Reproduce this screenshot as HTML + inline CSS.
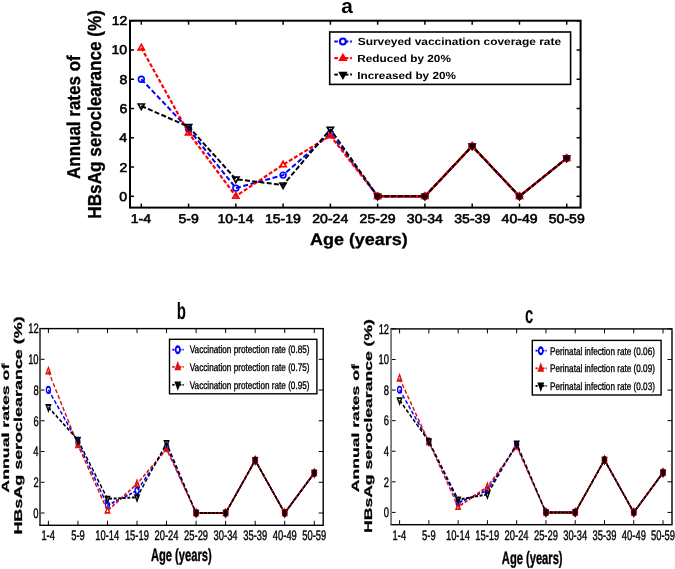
<!DOCTYPE html>
<html><head><meta charset="utf-8"><style>
html,body{margin:0;padding:0;background:#fff;}
body{width:675px;height:569px;overflow:hidden;}
svg{display:block;will-change:transform;font-family:"Liberation Sans",sans-serif;text-rendering:geometricPrecision;}
</style></head><body>
<svg width="675" height="569" viewBox="0 0 675 569">
<rect width="675" height="569" fill="#fff"/>
<polyline points="141.30,79.26 188.57,129.00 235.84,188.11 283.11,175.09 330.38,133.39 377.65,196.30 424.92,196.30 472.19,146.12 519.46,196.30 566.73,158.26" fill="none" stroke="#0000ff" stroke-width="2.0" stroke-dasharray="5,2.6" stroke-linejoin="round"/>
<g transform="translate(141.30,79.26) scale(1.0,1)"><ellipse cx="0" cy="0" rx="2.90" ry="2.90" fill="none" stroke="#0000ff" stroke-width="1.6" /></g>
<g transform="translate(188.57,129.00) scale(1.0,1)"><ellipse cx="0" cy="0" rx="2.90" ry="2.90" fill="none" stroke="#0000ff" stroke-width="1.6" /></g>
<g transform="translate(235.84,188.11) scale(1.0,1)"><ellipse cx="0" cy="0" rx="2.90" ry="2.90" fill="none" stroke="#0000ff" stroke-width="1.6" /></g>
<g transform="translate(283.11,175.09) scale(1.0,1)"><ellipse cx="0" cy="0" rx="2.90" ry="2.90" fill="none" stroke="#0000ff" stroke-width="1.6" /></g>
<g transform="translate(330.38,133.39) scale(1.0,1)"><ellipse cx="0" cy="0" rx="2.90" ry="2.90" fill="none" stroke="#0000ff" stroke-width="1.6" /></g>
<g transform="translate(377.65,196.30) scale(1.0,1)"><ellipse cx="0" cy="0" rx="2.90" ry="2.90" fill="none" stroke="#0000ff" stroke-width="1.6" /></g>
<g transform="translate(424.92,196.30) scale(1.0,1)"><ellipse cx="0" cy="0" rx="2.90" ry="2.90" fill="none" stroke="#0000ff" stroke-width="1.6" /></g>
<g transform="translate(472.19,146.12) scale(1.0,1)"><ellipse cx="0" cy="0" rx="2.90" ry="2.90" fill="none" stroke="#0000ff" stroke-width="1.6" /></g>
<g transform="translate(519.46,196.30) scale(1.0,1)"><ellipse cx="0" cy="0" rx="2.90" ry="2.90" fill="none" stroke="#0000ff" stroke-width="1.6" /></g>
<g transform="translate(566.73,158.26) scale(1.0,1)"><ellipse cx="0" cy="0" rx="2.90" ry="2.90" fill="none" stroke="#0000ff" stroke-width="1.6" /></g>
<polyline points="141.30,47.81 188.57,132.81 235.84,196.15 283.11,164.70 330.38,135.73 377.65,196.30 424.92,196.30 472.19,146.12 519.46,196.30 566.73,158.26" fill="none" stroke="#ff0000" stroke-width="2.2" stroke-dasharray="4,2" stroke-linejoin="round"/>
<g transform="translate(141.30,47.81) scale(1.0,1)"><polygon points="0,-3.40 3.06,2.04 -3.06,2.04" fill="none" stroke="#ff0000" stroke-width="1.7" stroke-linejoin="miter" /></g>
<g transform="translate(188.57,132.81) scale(1.0,1)"><polygon points="0,-3.40 3.06,2.04 -3.06,2.04" fill="none" stroke="#ff0000" stroke-width="1.7" stroke-linejoin="miter" /></g>
<g transform="translate(235.84,196.15) scale(1.0,1)"><polygon points="0,-3.40 3.06,2.04 -3.06,2.04" fill="none" stroke="#ff0000" stroke-width="1.7" stroke-linejoin="miter" /></g>
<g transform="translate(283.11,164.70) scale(1.0,1)"><polygon points="0,-3.40 3.06,2.04 -3.06,2.04" fill="none" stroke="#ff0000" stroke-width="1.7" stroke-linejoin="miter" /></g>
<g transform="translate(330.38,135.73) scale(1.0,1)"><polygon points="0,-3.40 3.06,2.04 -3.06,2.04" fill="none" stroke="#ff0000" stroke-width="1.7" stroke-linejoin="miter" /></g>
<g transform="translate(377.65,196.30) scale(1.0,1)"><polygon points="0,-3.40 3.06,2.04 -3.06,2.04" fill="none" stroke="#ff0000" stroke-width="1.7" stroke-linejoin="miter" /></g>
<g transform="translate(424.92,196.30) scale(1.0,1)"><polygon points="0,-3.40 3.06,2.04 -3.06,2.04" fill="none" stroke="#ff0000" stroke-width="1.7" stroke-linejoin="miter" /></g>
<g transform="translate(472.19,146.12) scale(1.0,1)"><polygon points="0,-3.40 3.06,2.04 -3.06,2.04" fill="none" stroke="#ff0000" stroke-width="1.7" stroke-linejoin="miter" /></g>
<g transform="translate(519.46,196.30) scale(1.0,1)"><polygon points="0,-3.40 3.06,2.04 -3.06,2.04" fill="none" stroke="#ff0000" stroke-width="1.7" stroke-linejoin="miter" /></g>
<g transform="translate(566.73,158.26) scale(1.0,1)"><polygon points="0,-3.40 3.06,2.04 -3.06,2.04" fill="none" stroke="#ff0000" stroke-width="1.7" stroke-linejoin="miter" /></g>
<polyline points="141.30,106.03 188.57,126.66 235.84,179.18 283.11,185.03 330.38,129.29 377.65,196.30 424.92,196.30 472.19,146.12 519.46,196.30 566.73,158.26" fill="none" stroke="#000" stroke-width="2.0" stroke-dasharray="5,2.3" stroke-linejoin="round"/>
<g transform="translate(141.30,106.03) scale(1.0,1)"><polygon points="0,3.40 3.06,-2.04 -3.06,-2.04" fill="none" stroke="#000" stroke-width="1.7" stroke-linejoin="miter" /></g>
<g transform="translate(188.57,126.66) scale(1.0,1)"><polygon points="0,3.40 3.06,-2.04 -3.06,-2.04" fill="none" stroke="#000" stroke-width="1.7" stroke-linejoin="miter" /></g>
<g transform="translate(235.84,179.18) scale(1.0,1)"><polygon points="0,3.40 3.06,-2.04 -3.06,-2.04" fill="none" stroke="#000" stroke-width="1.7" stroke-linejoin="miter" /></g>
<g transform="translate(283.11,185.03) scale(1.0,1)"><polygon points="0,3.40 3.06,-2.04 -3.06,-2.04" fill="none" stroke="#000" stroke-width="1.7" stroke-linejoin="miter" /></g>
<g transform="translate(330.38,129.29) scale(1.0,1)"><polygon points="0,3.40 3.06,-2.04 -3.06,-2.04" fill="none" stroke="#000" stroke-width="1.7" stroke-linejoin="miter" /></g>
<g transform="translate(377.65,196.30) scale(1.0,1)"><polygon points="0,3.40 3.06,-2.04 -3.06,-2.04" fill="none" stroke="#000" stroke-width="1.7" stroke-linejoin="miter" /></g>
<g transform="translate(424.92,196.30) scale(1.0,1)"><polygon points="0,3.40 3.06,-2.04 -3.06,-2.04" fill="none" stroke="#000" stroke-width="1.7" stroke-linejoin="miter" /></g>
<g transform="translate(472.19,146.12) scale(1.0,1)"><polygon points="0,3.40 3.06,-2.04 -3.06,-2.04" fill="none" stroke="#000" stroke-width="1.7" stroke-linejoin="miter" /></g>
<g transform="translate(519.46,196.30) scale(1.0,1)"><polygon points="0,3.40 3.06,-2.04 -3.06,-2.04" fill="none" stroke="#000" stroke-width="1.7" stroke-linejoin="miter" /></g>
<g transform="translate(566.73,158.26) scale(1.0,1)"><polygon points="0,3.40 3.06,-2.04 -3.06,-2.04" fill="none" stroke="#000" stroke-width="1.7" stroke-linejoin="miter" /></g>
<polyline points="377.65,196.30 424.92,196.30 472.19,146.12 519.46,196.30 566.73,158.26" fill="none" stroke="#ff0000" stroke-width="2.2" stroke-linejoin="round"/>
<polyline points="377.65,196.30 424.92,196.30 472.19,146.12 519.46,196.30 566.73,158.26" fill="none" stroke="#000" stroke-width="2.0" stroke-dasharray="5,1.7" stroke-linejoin="round"/>
<ellipse cx="377.65" cy="196.30" rx="3.40" ry="3.00" fill="#100" stroke="#c00" stroke-width="0.7"/>
<ellipse cx="424.92" cy="196.30" rx="3.40" ry="3.00" fill="#100" stroke="#c00" stroke-width="0.7"/>
<ellipse cx="472.19" cy="146.12" rx="3.40" ry="3.00" fill="#100" stroke="#c00" stroke-width="0.7"/>
<ellipse cx="519.46" cy="196.30" rx="3.40" ry="3.00" fill="#100" stroke="#c00" stroke-width="0.7"/>
<ellipse cx="566.73" cy="158.26" rx="3.40" ry="3.00" fill="#100" stroke="#c00" stroke-width="0.7"/>
<line x1="141.30" y1="20.70" x2="141.30" y2="24.70" stroke="#000" stroke-width="1.5" />
<line x1="141.30" y1="207.60" x2="141.30" y2="203.60" stroke="#000" stroke-width="1.5" />
<line x1="188.57" y1="20.70" x2="188.57" y2="24.70" stroke="#000" stroke-width="1.5" />
<line x1="188.57" y1="207.60" x2="188.57" y2="203.60" stroke="#000" stroke-width="1.5" />
<line x1="235.84" y1="20.70" x2="235.84" y2="24.70" stroke="#000" stroke-width="1.5" />
<line x1="235.84" y1="207.60" x2="235.84" y2="203.60" stroke="#000" stroke-width="1.5" />
<line x1="283.11" y1="20.70" x2="283.11" y2="24.70" stroke="#000" stroke-width="1.5" />
<line x1="283.11" y1="207.60" x2="283.11" y2="203.60" stroke="#000" stroke-width="1.5" />
<line x1="330.38" y1="20.70" x2="330.38" y2="24.70" stroke="#000" stroke-width="1.5" />
<line x1="330.38" y1="207.60" x2="330.38" y2="203.60" stroke="#000" stroke-width="1.5" />
<line x1="377.65" y1="20.70" x2="377.65" y2="24.70" stroke="#000" stroke-width="1.5" />
<line x1="377.65" y1="207.60" x2="377.65" y2="203.60" stroke="#000" stroke-width="1.5" />
<line x1="424.92" y1="20.70" x2="424.92" y2="24.70" stroke="#000" stroke-width="1.5" />
<line x1="424.92" y1="207.60" x2="424.92" y2="203.60" stroke="#000" stroke-width="1.5" />
<line x1="472.19" y1="20.70" x2="472.19" y2="24.70" stroke="#000" stroke-width="1.5" />
<line x1="472.19" y1="207.60" x2="472.19" y2="203.60" stroke="#000" stroke-width="1.5" />
<line x1="519.46" y1="20.70" x2="519.46" y2="24.70" stroke="#000" stroke-width="1.5" />
<line x1="519.46" y1="207.60" x2="519.46" y2="203.60" stroke="#000" stroke-width="1.5" />
<line x1="566.73" y1="20.70" x2="566.73" y2="24.70" stroke="#000" stroke-width="1.5" />
<line x1="566.73" y1="207.60" x2="566.73" y2="203.60" stroke="#000" stroke-width="1.5" />
<line x1="130.00" y1="196.30" x2="134.00" y2="196.30" stroke="#000" stroke-width="1.5" />
<line x1="580.60" y1="196.30" x2="576.60" y2="196.30" stroke="#000" stroke-width="1.5" />
<line x1="130.00" y1="167.04" x2="134.00" y2="167.04" stroke="#000" stroke-width="1.5" />
<line x1="580.60" y1="167.04" x2="576.60" y2="167.04" stroke="#000" stroke-width="1.5" />
<line x1="130.00" y1="137.78" x2="134.00" y2="137.78" stroke="#000" stroke-width="1.5" />
<line x1="580.60" y1="137.78" x2="576.60" y2="137.78" stroke="#000" stroke-width="1.5" />
<line x1="130.00" y1="108.52" x2="134.00" y2="108.52" stroke="#000" stroke-width="1.5" />
<line x1="580.60" y1="108.52" x2="576.60" y2="108.52" stroke="#000" stroke-width="1.5" />
<line x1="130.00" y1="79.26" x2="134.00" y2="79.26" stroke="#000" stroke-width="1.5" />
<line x1="580.60" y1="79.26" x2="576.60" y2="79.26" stroke="#000" stroke-width="1.5" />
<line x1="130.00" y1="50.00" x2="134.00" y2="50.00" stroke="#000" stroke-width="1.5" />
<line x1="580.60" y1="50.00" x2="576.60" y2="50.00" stroke="#000" stroke-width="1.5" />
<line x1="130.00" y1="20.74" x2="134.00" y2="20.74" stroke="#000" stroke-width="1.5" />
<line x1="580.60" y1="20.74" x2="576.60" y2="20.74" stroke="#000" stroke-width="1.5" />
<rect x="130.00" y="20.70" width="450.60" height="186.90" fill="none" stroke="#000" stroke-width="2"/>
<text transform="translate(130.79,222.60) scale(1.1000,1)" font-size="12.80" font-weight="normal" stroke="#000" stroke-width="0.6" stroke-linejoin="round">1-4</text>
<text transform="translate(178.43,222.60) scale(1.1000,1)" font-size="12.80" font-weight="normal" stroke="#000" stroke-width="0.6" stroke-linejoin="round">5-9</text>
<text transform="translate(217.50,222.60) scale(1.1000,1)" font-size="12.80" font-weight="normal" stroke="#000" stroke-width="0.6" stroke-linejoin="round">10-14</text>
<text transform="translate(264.89,222.60) scale(1.1000,1)" font-size="12.80" font-weight="normal" stroke="#000" stroke-width="0.6" stroke-linejoin="round">15-19</text>
<text transform="translate(312.22,222.60) scale(1.1000,1)" font-size="12.80" font-weight="normal" stroke="#000" stroke-width="0.6" stroke-linejoin="round">20-24</text>
<text transform="translate(359.61,222.60) scale(1.1000,1)" font-size="12.80" font-weight="normal" stroke="#000" stroke-width="0.6" stroke-linejoin="round">25-29</text>
<text transform="translate(406.84,222.60) scale(1.1000,1)" font-size="12.80" font-weight="normal" stroke="#000" stroke-width="0.6" stroke-linejoin="round">30-34</text>
<text transform="translate(454.24,222.60) scale(1.1000,1)" font-size="12.80" font-weight="normal" stroke="#000" stroke-width="0.6" stroke-linejoin="round">35-39</text>
<text transform="translate(501.61,222.60) scale(1.1000,1)" font-size="12.80" font-weight="normal" stroke="#000" stroke-width="0.6" stroke-linejoin="round">40-49</text>
<text transform="translate(548.76,222.60) scale(1.1000,1)" font-size="12.80" font-weight="normal" stroke="#000" stroke-width="0.6" stroke-linejoin="round">50-59</text>
<text transform="translate(119.31,200.76) scale(1.1000,1)" font-size="12.80" font-weight="normal" stroke="#000" stroke-width="0.6" stroke-linejoin="round">0</text>
<text transform="translate(119.49,171.50) scale(1.1000,1)" font-size="12.80" font-weight="normal" stroke="#000" stroke-width="0.6" stroke-linejoin="round">2</text>
<text transform="translate(119.17,142.24) scale(1.1000,1)" font-size="12.80" font-weight="normal" stroke="#000" stroke-width="0.6" stroke-linejoin="round">4</text>
<text transform="translate(119.38,112.98) scale(1.1000,1)" font-size="12.80" font-weight="normal" stroke="#000" stroke-width="0.6" stroke-linejoin="round">6</text>
<text transform="translate(119.38,83.72) scale(1.1000,1)" font-size="12.80" font-weight="normal" stroke="#000" stroke-width="0.6" stroke-linejoin="round">8</text>
<text transform="translate(111.50,54.46) scale(1.1000,1)" font-size="12.80" font-weight="normal" stroke="#000" stroke-width="0.6" stroke-linejoin="round">10</text>
<text transform="translate(111.68,25.20) scale(1.1000,1)" font-size="12.80" font-weight="normal" stroke="#000" stroke-width="0.6" stroke-linejoin="round">12</text>
<g transform="scale(0.65,1)">
<polyline points="74.46,389.89 119.91,442.30 165.35,505.31 210.80,490.71 256.25,446.91 301.69,513.00 347.14,513.00 392.58,460.28 438.03,513.00 483.48,473.04" fill="none" stroke="#0000ff" stroke-width="2.0" stroke-dasharray="4.5,2.5" stroke-linejoin="round"/>
<g transform="translate(74.46,389.89) scale(1.0,1)"><ellipse cx="0" cy="0" rx="3.10" ry="3.10" fill="none" stroke="#0000ff" stroke-width="1.9" /></g>
<g transform="translate(119.91,442.30) scale(1.0,1)"><ellipse cx="0" cy="0" rx="3.10" ry="3.10" fill="none" stroke="#0000ff" stroke-width="1.9" /></g>
<g transform="translate(165.35,505.31) scale(1.0,1)"><ellipse cx="0" cy="0" rx="3.10" ry="3.10" fill="none" stroke="#0000ff" stroke-width="1.9" /></g>
<g transform="translate(210.80,490.71) scale(1.0,1)"><ellipse cx="0" cy="0" rx="3.10" ry="3.10" fill="none" stroke="#0000ff" stroke-width="1.9" /></g>
<g transform="translate(256.25,446.91) scale(1.0,1)"><ellipse cx="0" cy="0" rx="3.10" ry="3.10" fill="none" stroke="#0000ff" stroke-width="1.9" /></g>
<g transform="translate(301.69,513.00) scale(1.0,1)"><ellipse cx="0" cy="0" rx="3.10" ry="3.10" fill="none" stroke="#0000ff" stroke-width="1.9" /></g>
<g transform="translate(347.14,513.00) scale(1.0,1)"><ellipse cx="0" cy="0" rx="3.10" ry="3.10" fill="none" stroke="#0000ff" stroke-width="1.9" /></g>
<g transform="translate(392.58,460.28) scale(1.0,1)"><ellipse cx="0" cy="0" rx="3.10" ry="3.10" fill="none" stroke="#0000ff" stroke-width="1.9" /></g>
<g transform="translate(438.03,513.00) scale(1.0,1)"><ellipse cx="0" cy="0" rx="3.10" ry="3.10" fill="none" stroke="#0000ff" stroke-width="1.9" /></g>
<g transform="translate(483.48,473.04) scale(1.0,1)"><ellipse cx="0" cy="0" rx="3.10" ry="3.10" fill="none" stroke="#0000ff" stroke-width="1.9" /></g>
<polyline points="74.46,371.29 119.91,445.06 165.35,510.69 210.80,483.95 256.25,449.06 301.69,513.00 347.14,513.00 392.58,460.28 438.03,513.00 483.48,473.04" fill="none" stroke="#dd1111" stroke-width="2.0" stroke-dasharray="4.5,2.5" stroke-linejoin="round"/>
<g transform="translate(74.46,371.29) scale(1.0,1)"><polygon points="0,-3.70 3.33,2.22 -3.33,2.22" fill="none" stroke="#dd1111" stroke-width="1.9" stroke-linejoin="miter" /></g>
<g transform="translate(119.91,445.06) scale(1.0,1)"><polygon points="0,-3.70 3.33,2.22 -3.33,2.22" fill="none" stroke="#dd1111" stroke-width="1.9" stroke-linejoin="miter" /></g>
<g transform="translate(165.35,510.69) scale(1.0,1)"><polygon points="0,-3.70 3.33,2.22 -3.33,2.22" fill="none" stroke="#dd1111" stroke-width="1.9" stroke-linejoin="miter" /></g>
<g transform="translate(210.80,483.95) scale(1.0,1)"><polygon points="0,-3.70 3.33,2.22 -3.33,2.22" fill="none" stroke="#dd1111" stroke-width="1.9" stroke-linejoin="miter" /></g>
<g transform="translate(256.25,449.06) scale(1.0,1)"><polygon points="0,-3.70 3.33,2.22 -3.33,2.22" fill="none" stroke="#dd1111" stroke-width="1.9" stroke-linejoin="miter" /></g>
<g transform="translate(301.69,513.00) scale(1.0,1)"><polygon points="0,-3.70 3.33,2.22 -3.33,2.22" fill="none" stroke="#dd1111" stroke-width="1.9" stroke-linejoin="miter" /></g>
<g transform="translate(347.14,513.00) scale(1.0,1)"><polygon points="0,-3.70 3.33,2.22 -3.33,2.22" fill="none" stroke="#dd1111" stroke-width="1.9" stroke-linejoin="miter" /></g>
<g transform="translate(392.58,460.28) scale(1.0,1)"><polygon points="0,-3.70 3.33,2.22 -3.33,2.22" fill="none" stroke="#dd1111" stroke-width="1.9" stroke-linejoin="miter" /></g>
<g transform="translate(438.03,513.00) scale(1.0,1)"><polygon points="0,-3.70 3.33,2.22 -3.33,2.22" fill="none" stroke="#dd1111" stroke-width="1.9" stroke-linejoin="miter" /></g>
<g transform="translate(483.48,473.04) scale(1.0,1)"><polygon points="0,-3.70 3.33,2.22 -3.33,2.22" fill="none" stroke="#dd1111" stroke-width="1.9" stroke-linejoin="miter" /></g>
<polyline points="74.46,407.25 119.91,439.99 165.35,498.86 210.80,497.32 256.25,443.07 301.69,513.00 347.14,513.00 392.58,460.28 438.03,513.00 483.48,473.04" fill="none" stroke="#000" stroke-width="2.0" stroke-dasharray="4.5,2.5" stroke-linejoin="round"/>
<g transform="translate(74.46,407.25) scale(1.0,1)"><polygon points="0,3.70 3.33,-2.22 -3.33,-2.22" fill="none" stroke="#000" stroke-width="1.9" stroke-linejoin="miter" /></g>
<g transform="translate(119.91,439.99) scale(1.0,1)"><polygon points="0,3.70 3.33,-2.22 -3.33,-2.22" fill="none" stroke="#000" stroke-width="1.9" stroke-linejoin="miter" /></g>
<g transform="translate(165.35,498.86) scale(1.0,1)"><polygon points="0,3.70 3.33,-2.22 -3.33,-2.22" fill="none" stroke="#000" stroke-width="1.9" stroke-linejoin="miter" /></g>
<g transform="translate(210.80,497.32) scale(1.0,1)"><polygon points="0,3.70 3.33,-2.22 -3.33,-2.22" fill="none" stroke="#000" stroke-width="1.9" stroke-linejoin="miter" /></g>
<g transform="translate(256.25,443.07) scale(1.0,1)"><polygon points="0,3.70 3.33,-2.22 -3.33,-2.22" fill="none" stroke="#000" stroke-width="1.9" stroke-linejoin="miter" /></g>
<g transform="translate(301.69,513.00) scale(1.0,1)"><polygon points="0,3.70 3.33,-2.22 -3.33,-2.22" fill="none" stroke="#000" stroke-width="1.9" stroke-linejoin="miter" /></g>
<g transform="translate(347.14,513.00) scale(1.0,1)"><polygon points="0,3.70 3.33,-2.22 -3.33,-2.22" fill="none" stroke="#000" stroke-width="1.9" stroke-linejoin="miter" /></g>
<g transform="translate(392.58,460.28) scale(1.0,1)"><polygon points="0,3.70 3.33,-2.22 -3.33,-2.22" fill="none" stroke="#000" stroke-width="1.9" stroke-linejoin="miter" /></g>
<g transform="translate(438.03,513.00) scale(1.0,1)"><polygon points="0,3.70 3.33,-2.22 -3.33,-2.22" fill="none" stroke="#000" stroke-width="1.9" stroke-linejoin="miter" /></g>
<g transform="translate(483.48,473.04) scale(1.0,1)"><polygon points="0,3.70 3.33,-2.22 -3.33,-2.22" fill="none" stroke="#000" stroke-width="1.9" stroke-linejoin="miter" /></g>
<polyline points="301.69,513.00 347.14,513.00 392.58,460.28 438.03,513.00 483.48,473.04" fill="none" stroke="#dd1111" stroke-width="2.0" stroke-linejoin="round"/>
<polyline points="301.69,513.00 347.14,513.00 392.58,460.28 438.03,513.00 483.48,473.04" fill="none" stroke="#000" stroke-width="2.0" stroke-dasharray="4.5,1.5" stroke-linejoin="round"/>
<ellipse cx="301.69" cy="513.00" rx="4.00" ry="3.60" fill="#100" stroke="#c00" stroke-width="0.7"/>
<ellipse cx="347.14" cy="513.00" rx="4.00" ry="3.60" fill="#100" stroke="#c00" stroke-width="0.7"/>
<ellipse cx="392.58" cy="460.28" rx="4.00" ry="3.60" fill="#100" stroke="#c00" stroke-width="0.7"/>
<ellipse cx="438.03" cy="513.00" rx="4.00" ry="3.60" fill="#100" stroke="#c00" stroke-width="0.7"/>
<ellipse cx="483.48" cy="473.04" rx="4.00" ry="3.60" fill="#100" stroke="#c00" stroke-width="0.7"/>
</g>
<line x1="48.40" y1="328.60" x2="48.40" y2="333.10" stroke="#000" stroke-width="1" />
<line x1="48.40" y1="525.30" x2="48.40" y2="520.80" stroke="#000" stroke-width="1" />
<line x1="77.94" y1="328.60" x2="77.94" y2="333.10" stroke="#000" stroke-width="1" />
<line x1="77.94" y1="525.30" x2="77.94" y2="520.80" stroke="#000" stroke-width="1" />
<line x1="107.48" y1="328.60" x2="107.48" y2="333.10" stroke="#000" stroke-width="1" />
<line x1="107.48" y1="525.30" x2="107.48" y2="520.80" stroke="#000" stroke-width="1" />
<line x1="137.02" y1="328.60" x2="137.02" y2="333.10" stroke="#000" stroke-width="1" />
<line x1="137.02" y1="525.30" x2="137.02" y2="520.80" stroke="#000" stroke-width="1" />
<line x1="166.56" y1="328.60" x2="166.56" y2="333.10" stroke="#000" stroke-width="1" />
<line x1="166.56" y1="525.30" x2="166.56" y2="520.80" stroke="#000" stroke-width="1" />
<line x1="196.10" y1="328.60" x2="196.10" y2="333.10" stroke="#000" stroke-width="1" />
<line x1="196.10" y1="525.30" x2="196.10" y2="520.80" stroke="#000" stroke-width="1" />
<line x1="225.64" y1="328.60" x2="225.64" y2="333.10" stroke="#000" stroke-width="1" />
<line x1="225.64" y1="525.30" x2="225.64" y2="520.80" stroke="#000" stroke-width="1" />
<line x1="255.18" y1="328.60" x2="255.18" y2="333.10" stroke="#000" stroke-width="1" />
<line x1="255.18" y1="525.30" x2="255.18" y2="520.80" stroke="#000" stroke-width="1" />
<line x1="284.72" y1="328.60" x2="284.72" y2="333.10" stroke="#000" stroke-width="1" />
<line x1="284.72" y1="525.30" x2="284.72" y2="520.80" stroke="#000" stroke-width="1" />
<line x1="314.26" y1="328.60" x2="314.26" y2="333.10" stroke="#000" stroke-width="1" />
<line x1="314.26" y1="525.30" x2="314.26" y2="520.80" stroke="#000" stroke-width="1" />
<line x1="40.00" y1="513.00" x2="44.50" y2="513.00" stroke="#000" stroke-width="1" />
<line x1="323.20" y1="513.00" x2="318.70" y2="513.00" stroke="#000" stroke-width="1" />
<line x1="40.00" y1="482.26" x2="44.50" y2="482.26" stroke="#000" stroke-width="1" />
<line x1="323.20" y1="482.26" x2="318.70" y2="482.26" stroke="#000" stroke-width="1" />
<line x1="40.00" y1="451.52" x2="44.50" y2="451.52" stroke="#000" stroke-width="1" />
<line x1="323.20" y1="451.52" x2="318.70" y2="451.52" stroke="#000" stroke-width="1" />
<line x1="40.00" y1="420.78" x2="44.50" y2="420.78" stroke="#000" stroke-width="1" />
<line x1="323.20" y1="420.78" x2="318.70" y2="420.78" stroke="#000" stroke-width="1" />
<line x1="40.00" y1="390.04" x2="44.50" y2="390.04" stroke="#000" stroke-width="1" />
<line x1="323.20" y1="390.04" x2="318.70" y2="390.04" stroke="#000" stroke-width="1" />
<line x1="40.00" y1="359.30" x2="44.50" y2="359.30" stroke="#000" stroke-width="1" />
<line x1="323.20" y1="359.30" x2="318.70" y2="359.30" stroke="#000" stroke-width="1" />
<line x1="40.00" y1="328.56" x2="44.50" y2="328.56" stroke="#000" stroke-width="1" />
<line x1="323.20" y1="328.56" x2="318.70" y2="328.56" stroke="#000" stroke-width="1" />
<rect x="40.00" y="328.60" width="283.20" height="196.70" fill="none" stroke="#000" stroke-width="1.4"/>
<line x1="40.00" y1="329.30" x2="40.00" y2="524.60" stroke="#fff" stroke-width="1.5999999999999999" />
<line x1="40.00" y1="328.60" x2="40.00" y2="525.30" stroke="#111" stroke-width="1.3" />
<text transform="translate(41.40,539.80) scale(0.6800,1)" font-size="13.80" font-weight="normal" stroke="#000" stroke-width="0.4" stroke-linejoin="round">1-4</text>
<text transform="translate(71.18,539.80) scale(0.6800,1)" font-size="13.80" font-weight="normal" stroke="#000" stroke-width="0.4" stroke-linejoin="round">5-9</text>
<text transform="translate(95.26,539.80) scale(0.6800,1)" font-size="13.80" font-weight="normal" stroke="#000" stroke-width="0.4" stroke-linejoin="round">10-14</text>
<text transform="translate(124.88,539.80) scale(0.6800,1)" font-size="13.80" font-weight="normal" stroke="#000" stroke-width="0.4" stroke-linejoin="round">15-19</text>
<text transform="translate(154.45,539.80) scale(0.6800,1)" font-size="13.80" font-weight="normal" stroke="#000" stroke-width="0.4" stroke-linejoin="round">20-24</text>
<text transform="translate(184.08,539.80) scale(0.6800,1)" font-size="13.80" font-weight="normal" stroke="#000" stroke-width="0.4" stroke-linejoin="round">25-29</text>
<text transform="translate(213.59,539.80) scale(0.6800,1)" font-size="13.80" font-weight="normal" stroke="#000" stroke-width="0.4" stroke-linejoin="round">30-34</text>
<text transform="translate(243.22,539.80) scale(0.6800,1)" font-size="13.80" font-weight="normal" stroke="#000" stroke-width="0.4" stroke-linejoin="round">35-39</text>
<text transform="translate(272.83,539.80) scale(0.6800,1)" font-size="13.80" font-weight="normal" stroke="#000" stroke-width="0.4" stroke-linejoin="round">40-49</text>
<text transform="translate(302.28,539.80) scale(0.6800,1)" font-size="13.80" font-weight="normal" stroke="#000" stroke-width="0.4" stroke-linejoin="round">50-59</text>
<text transform="translate(33.34,517.81) scale(0.6800,1)" font-size="13.80" font-weight="normal" stroke="#000" stroke-width="0.4" stroke-linejoin="round">0</text>
<text transform="translate(33.46,487.07) scale(0.6800,1)" font-size="13.80" font-weight="normal" stroke="#000" stroke-width="0.4" stroke-linejoin="round">2</text>
<text transform="translate(33.25,456.33) scale(0.6800,1)" font-size="13.80" font-weight="normal" stroke="#000" stroke-width="0.4" stroke-linejoin="round">4</text>
<text transform="translate(33.39,425.59) scale(0.6800,1)" font-size="13.80" font-weight="normal" stroke="#000" stroke-width="0.4" stroke-linejoin="round">6</text>
<text transform="translate(33.39,394.85) scale(0.6800,1)" font-size="13.80" font-weight="normal" stroke="#000" stroke-width="0.4" stroke-linejoin="round">8</text>
<text transform="translate(28.14,364.11) scale(0.6800,1)" font-size="13.80" font-weight="normal" stroke="#000" stroke-width="0.4" stroke-linejoin="round">10</text>
<text transform="translate(28.25,333.37) scale(0.6800,1)" font-size="13.80" font-weight="normal" stroke="#000" stroke-width="0.4" stroke-linejoin="round">12</text>
<g transform="scale(0.65,1)">
<polyline points="614.77,389.77 659.80,441.61 704.83,502.77 749.86,490.23 794.89,445.12 839.92,512.40 884.95,512.40 929.98,459.96 975.02,512.40 1020.05,472.65" fill="none" stroke="#0000ff" stroke-width="2.0" stroke-dasharray="4.5,2.5" stroke-linejoin="round"/>
<g transform="translate(614.77,389.77) scale(1.0,1)"><ellipse cx="0" cy="0" rx="3.10" ry="3.10" fill="none" stroke="#0000ff" stroke-width="1.9" /></g>
<g transform="translate(659.80,441.61) scale(1.0,1)"><ellipse cx="0" cy="0" rx="3.10" ry="3.10" fill="none" stroke="#0000ff" stroke-width="1.9" /></g>
<g transform="translate(704.83,502.77) scale(1.0,1)"><ellipse cx="0" cy="0" rx="3.10" ry="3.10" fill="none" stroke="#0000ff" stroke-width="1.9" /></g>
<g transform="translate(749.86,490.23) scale(1.0,1)"><ellipse cx="0" cy="0" rx="3.10" ry="3.10" fill="none" stroke="#0000ff" stroke-width="1.9" /></g>
<g transform="translate(794.89,445.12) scale(1.0,1)"><ellipse cx="0" cy="0" rx="3.10" ry="3.10" fill="none" stroke="#0000ff" stroke-width="1.9" /></g>
<g transform="translate(839.92,512.40) scale(1.0,1)"><ellipse cx="0" cy="0" rx="3.10" ry="3.10" fill="none" stroke="#0000ff" stroke-width="1.9" /></g>
<g transform="translate(884.95,512.40) scale(1.0,1)"><ellipse cx="0" cy="0" rx="3.10" ry="3.10" fill="none" stroke="#0000ff" stroke-width="1.9" /></g>
<g transform="translate(929.98,459.96) scale(1.0,1)"><ellipse cx="0" cy="0" rx="3.10" ry="3.10" fill="none" stroke="#0000ff" stroke-width="1.9" /></g>
<g transform="translate(975.02,512.40) scale(1.0,1)"><ellipse cx="0" cy="0" rx="3.10" ry="3.10" fill="none" stroke="#0000ff" stroke-width="1.9" /></g>
<g transform="translate(1020.05,472.65) scale(1.0,1)"><ellipse cx="0" cy="0" rx="3.10" ry="3.10" fill="none" stroke="#0000ff" stroke-width="1.9" /></g>
<polyline points="614.77,378.46 659.80,442.07 704.83,506.90 749.86,486.87 794.89,446.65 839.92,512.40 884.95,512.40 929.98,459.96 975.02,512.40 1020.05,472.65" fill="none" stroke="#dd1111" stroke-width="2.0" stroke-dasharray="4.5,2.5" stroke-linejoin="round"/>
<g transform="translate(614.77,378.46) scale(1.0,1)"><polygon points="0,-3.70 3.33,2.22 -3.33,2.22" fill="none" stroke="#dd1111" stroke-width="1.9" stroke-linejoin="miter" /></g>
<g transform="translate(659.80,442.07) scale(1.0,1)"><polygon points="0,-3.70 3.33,2.22 -3.33,2.22" fill="none" stroke="#dd1111" stroke-width="1.9" stroke-linejoin="miter" /></g>
<g transform="translate(704.83,506.90) scale(1.0,1)"><polygon points="0,-3.70 3.33,2.22 -3.33,2.22" fill="none" stroke="#dd1111" stroke-width="1.9" stroke-linejoin="miter" /></g>
<g transform="translate(749.86,486.87) scale(1.0,1)"><polygon points="0,-3.70 3.33,2.22 -3.33,2.22" fill="none" stroke="#dd1111" stroke-width="1.9" stroke-linejoin="miter" /></g>
<g transform="translate(794.89,446.65) scale(1.0,1)"><polygon points="0,-3.70 3.33,2.22 -3.33,2.22" fill="none" stroke="#dd1111" stroke-width="1.9" stroke-linejoin="miter" /></g>
<g transform="translate(839.92,512.40) scale(1.0,1)"><polygon points="0,-3.70 3.33,2.22 -3.33,2.22" fill="none" stroke="#dd1111" stroke-width="1.9" stroke-linejoin="miter" /></g>
<g transform="translate(884.95,512.40) scale(1.0,1)"><polygon points="0,-3.70 3.33,2.22 -3.33,2.22" fill="none" stroke="#dd1111" stroke-width="1.9" stroke-linejoin="miter" /></g>
<g transform="translate(929.98,459.96) scale(1.0,1)"><polygon points="0,-3.70 3.33,2.22 -3.33,2.22" fill="none" stroke="#dd1111" stroke-width="1.9" stroke-linejoin="miter" /></g>
<g transform="translate(975.02,512.40) scale(1.0,1)"><polygon points="0,-3.70 3.33,2.22 -3.33,2.22" fill="none" stroke="#dd1111" stroke-width="1.9" stroke-linejoin="miter" /></g>
<g transform="translate(1020.05,472.65) scale(1.0,1)"><polygon points="0,-3.70 3.33,2.22 -3.33,2.22" fill="none" stroke="#dd1111" stroke-width="1.9" stroke-linejoin="miter" /></g>
<polyline points="614.77,400.32 659.80,441.30 704.83,499.71 749.86,494.36 794.89,443.59 839.92,512.40 884.95,512.40 929.98,459.96 975.02,512.40 1020.05,472.65" fill="none" stroke="#000" stroke-width="2.0" stroke-dasharray="4.5,2.5" stroke-linejoin="round"/>
<g transform="translate(614.77,400.32) scale(1.0,1)"><polygon points="0,3.70 3.33,-2.22 -3.33,-2.22" fill="none" stroke="#000" stroke-width="1.9" stroke-linejoin="miter" /></g>
<g transform="translate(659.80,441.30) scale(1.0,1)"><polygon points="0,3.70 3.33,-2.22 -3.33,-2.22" fill="none" stroke="#000" stroke-width="1.9" stroke-linejoin="miter" /></g>
<g transform="translate(704.83,499.71) scale(1.0,1)"><polygon points="0,3.70 3.33,-2.22 -3.33,-2.22" fill="none" stroke="#000" stroke-width="1.9" stroke-linejoin="miter" /></g>
<g transform="translate(749.86,494.36) scale(1.0,1)"><polygon points="0,3.70 3.33,-2.22 -3.33,-2.22" fill="none" stroke="#000" stroke-width="1.9" stroke-linejoin="miter" /></g>
<g transform="translate(794.89,443.59) scale(1.0,1)"><polygon points="0,3.70 3.33,-2.22 -3.33,-2.22" fill="none" stroke="#000" stroke-width="1.9" stroke-linejoin="miter" /></g>
<g transform="translate(839.92,512.40) scale(1.0,1)"><polygon points="0,3.70 3.33,-2.22 -3.33,-2.22" fill="none" stroke="#000" stroke-width="1.9" stroke-linejoin="miter" /></g>
<g transform="translate(884.95,512.40) scale(1.0,1)"><polygon points="0,3.70 3.33,-2.22 -3.33,-2.22" fill="none" stroke="#000" stroke-width="1.9" stroke-linejoin="miter" /></g>
<g transform="translate(929.98,459.96) scale(1.0,1)"><polygon points="0,3.70 3.33,-2.22 -3.33,-2.22" fill="none" stroke="#000" stroke-width="1.9" stroke-linejoin="miter" /></g>
<g transform="translate(975.02,512.40) scale(1.0,1)"><polygon points="0,3.70 3.33,-2.22 -3.33,-2.22" fill="none" stroke="#000" stroke-width="1.9" stroke-linejoin="miter" /></g>
<g transform="translate(1020.05,472.65) scale(1.0,1)"><polygon points="0,3.70 3.33,-2.22 -3.33,-2.22" fill="none" stroke="#000" stroke-width="1.9" stroke-linejoin="miter" /></g>
<polyline points="839.92,512.40 884.95,512.40 929.98,459.96 975.02,512.40 1020.05,472.65" fill="none" stroke="#dd1111" stroke-width="2.0" stroke-linejoin="round"/>
<polyline points="839.92,512.40 884.95,512.40 929.98,459.96 975.02,512.40 1020.05,472.65" fill="none" stroke="#000" stroke-width="2.0" stroke-dasharray="4.5,1.5" stroke-linejoin="round"/>
<ellipse cx="839.92" cy="512.40" rx="4.00" ry="3.60" fill="#100" stroke="#c00" stroke-width="0.7"/>
<ellipse cx="884.95" cy="512.40" rx="4.00" ry="3.60" fill="#100" stroke="#c00" stroke-width="0.7"/>
<ellipse cx="929.98" cy="459.96" rx="4.00" ry="3.60" fill="#100" stroke="#c00" stroke-width="0.7"/>
<ellipse cx="975.02" cy="512.40" rx="4.00" ry="3.60" fill="#100" stroke="#c00" stroke-width="0.7"/>
<ellipse cx="1020.05" cy="472.65" rx="4.00" ry="3.60" fill="#100" stroke="#c00" stroke-width="0.7"/>
</g>
<line x1="399.60" y1="328.90" x2="399.60" y2="333.40" stroke="#000" stroke-width="1" />
<line x1="399.60" y1="524.70" x2="399.60" y2="520.20" stroke="#000" stroke-width="1" />
<line x1="428.87" y1="328.90" x2="428.87" y2="333.40" stroke="#000" stroke-width="1" />
<line x1="428.87" y1="524.70" x2="428.87" y2="520.20" stroke="#000" stroke-width="1" />
<line x1="458.14" y1="328.90" x2="458.14" y2="333.40" stroke="#000" stroke-width="1" />
<line x1="458.14" y1="524.70" x2="458.14" y2="520.20" stroke="#000" stroke-width="1" />
<line x1="487.41" y1="328.90" x2="487.41" y2="333.40" stroke="#000" stroke-width="1" />
<line x1="487.41" y1="524.70" x2="487.41" y2="520.20" stroke="#000" stroke-width="1" />
<line x1="516.68" y1="328.90" x2="516.68" y2="333.40" stroke="#000" stroke-width="1" />
<line x1="516.68" y1="524.70" x2="516.68" y2="520.20" stroke="#000" stroke-width="1" />
<line x1="545.95" y1="328.90" x2="545.95" y2="333.40" stroke="#000" stroke-width="1" />
<line x1="545.95" y1="524.70" x2="545.95" y2="520.20" stroke="#000" stroke-width="1" />
<line x1="575.22" y1="328.90" x2="575.22" y2="333.40" stroke="#000" stroke-width="1" />
<line x1="575.22" y1="524.70" x2="575.22" y2="520.20" stroke="#000" stroke-width="1" />
<line x1="604.49" y1="328.90" x2="604.49" y2="333.40" stroke="#000" stroke-width="1" />
<line x1="604.49" y1="524.70" x2="604.49" y2="520.20" stroke="#000" stroke-width="1" />
<line x1="633.76" y1="328.90" x2="633.76" y2="333.40" stroke="#000" stroke-width="1" />
<line x1="633.76" y1="524.70" x2="633.76" y2="520.20" stroke="#000" stroke-width="1" />
<line x1="663.03" y1="328.90" x2="663.03" y2="333.40" stroke="#000" stroke-width="1" />
<line x1="663.03" y1="524.70" x2="663.03" y2="520.20" stroke="#000" stroke-width="1" />
<line x1="391.10" y1="512.40" x2="395.60" y2="512.40" stroke="#000" stroke-width="1" />
<line x1="672.00" y1="512.40" x2="667.50" y2="512.40" stroke="#000" stroke-width="1" />
<line x1="391.10" y1="481.82" x2="395.60" y2="481.82" stroke="#000" stroke-width="1" />
<line x1="672.00" y1="481.82" x2="667.50" y2="481.82" stroke="#000" stroke-width="1" />
<line x1="391.10" y1="451.24" x2="395.60" y2="451.24" stroke="#000" stroke-width="1" />
<line x1="672.00" y1="451.24" x2="667.50" y2="451.24" stroke="#000" stroke-width="1" />
<line x1="391.10" y1="420.66" x2="395.60" y2="420.66" stroke="#000" stroke-width="1" />
<line x1="672.00" y1="420.66" x2="667.50" y2="420.66" stroke="#000" stroke-width="1" />
<line x1="391.10" y1="390.08" x2="395.60" y2="390.08" stroke="#000" stroke-width="1" />
<line x1="672.00" y1="390.08" x2="667.50" y2="390.08" stroke="#000" stroke-width="1" />
<line x1="391.10" y1="359.50" x2="395.60" y2="359.50" stroke="#000" stroke-width="1" />
<line x1="672.00" y1="359.50" x2="667.50" y2="359.50" stroke="#000" stroke-width="1" />
<line x1="391.10" y1="328.92" x2="395.60" y2="328.92" stroke="#000" stroke-width="1" />
<line x1="672.00" y1="328.92" x2="667.50" y2="328.92" stroke="#000" stroke-width="1" />
<rect x="391.10" y="328.90" width="280.90" height="195.80" fill="none" stroke="#000" stroke-width="1.4"/>
<line x1="391.10" y1="329.60" x2="391.10" y2="524.00" stroke="#fff" stroke-width="1.5999999999999999" />
<line x1="391.10" y1="328.90" x2="391.10" y2="524.70" stroke="#555" stroke-width="1.3" />
<text transform="translate(392.60,539.80) scale(0.6800,1)" font-size="13.80" font-weight="normal" stroke="#000" stroke-width="0.4" stroke-linejoin="round">1-4</text>
<text transform="translate(422.11,539.80) scale(0.6800,1)" font-size="13.80" font-weight="normal" stroke="#000" stroke-width="0.4" stroke-linejoin="round">5-9</text>
<text transform="translate(445.92,539.80) scale(0.6800,1)" font-size="13.80" font-weight="normal" stroke="#000" stroke-width="0.4" stroke-linejoin="round">10-14</text>
<text transform="translate(475.27,539.80) scale(0.6800,1)" font-size="13.80" font-weight="normal" stroke="#000" stroke-width="0.4" stroke-linejoin="round">15-19</text>
<text transform="translate(504.57,539.80) scale(0.6800,1)" font-size="13.80" font-weight="normal" stroke="#000" stroke-width="0.4" stroke-linejoin="round">20-24</text>
<text transform="translate(533.93,539.80) scale(0.6800,1)" font-size="13.80" font-weight="normal" stroke="#000" stroke-width="0.4" stroke-linejoin="round">25-29</text>
<text transform="translate(563.17,539.80) scale(0.6800,1)" font-size="13.80" font-weight="normal" stroke="#000" stroke-width="0.4" stroke-linejoin="round">30-34</text>
<text transform="translate(592.53,539.80) scale(0.6800,1)" font-size="13.80" font-weight="normal" stroke="#000" stroke-width="0.4" stroke-linejoin="round">35-39</text>
<text transform="translate(621.87,539.80) scale(0.6800,1)" font-size="13.80" font-weight="normal" stroke="#000" stroke-width="0.4" stroke-linejoin="round">40-49</text>
<text transform="translate(651.05,539.80) scale(0.6800,1)" font-size="13.80" font-weight="normal" stroke="#000" stroke-width="0.4" stroke-linejoin="round">50-59</text>
<text transform="translate(383.74,517.21) scale(0.6800,1)" font-size="13.80" font-weight="normal" stroke="#000" stroke-width="0.4" stroke-linejoin="round">0</text>
<text transform="translate(383.86,486.63) scale(0.6800,1)" font-size="13.80" font-weight="normal" stroke="#000" stroke-width="0.4" stroke-linejoin="round">2</text>
<text transform="translate(383.65,456.05) scale(0.6800,1)" font-size="13.80" font-weight="normal" stroke="#000" stroke-width="0.4" stroke-linejoin="round">4</text>
<text transform="translate(383.79,425.47) scale(0.6800,1)" font-size="13.80" font-weight="normal" stroke="#000" stroke-width="0.4" stroke-linejoin="round">6</text>
<text transform="translate(383.79,394.89) scale(0.6800,1)" font-size="13.80" font-weight="normal" stroke="#000" stroke-width="0.4" stroke-linejoin="round">8</text>
<text transform="translate(378.54,364.31) scale(0.6800,1)" font-size="13.80" font-weight="normal" stroke="#000" stroke-width="0.4" stroke-linejoin="round">10</text>
<text transform="translate(378.65,333.73) scale(0.6800,1)" font-size="13.80" font-weight="normal" stroke="#000" stroke-width="0.4" stroke-linejoin="round">12</text>
<text transform="translate(341.37,13.00) scale(1.0186,1)" font-size="20.47" font-weight="bold" fill="#000">a</text>
<text transform="translate(176.72,319.40) scale(0.6381,1)" font-size="23.59" font-weight="bold" fill="#000">b</text>
<text transform="translate(524.91,323.40) scale(0.6060,1)" font-size="24.37" font-weight="bold" fill="#000">c</text>
<text transform="translate(309.95,244.50) scale(1.0757,1)" font-size="16.72" font-weight="bold" fill="#000" stroke="#000" stroke-width="0.3" stroke-linejoin="round">Age (years)</text>
<text transform="translate(150.92,561.40) scale(0.6298,1)" font-size="17.73" font-weight="bold" fill="#000" stroke="#000" stroke-width="0.4" stroke-linejoin="round">Age (years)</text>
<text transform="translate(501.82,564.20) scale(0.6247,1)" font-size="17.88" font-weight="bold" fill="#000" stroke="#000" stroke-width="0.4" stroke-linejoin="round">Age (years)</text>
<text transform="translate(80.10,179.03) rotate(-90) scale(1,1.0938)" font-size="17.01" font-weight="bold" stroke="#000" stroke-width="0.3" stroke-linejoin="round">Annual rates of</text>
<text transform="translate(101.30,218.66) rotate(-90) scale(1,1.0935)" font-size="17.15" font-weight="bold" stroke="#000" stroke-width="0.3" stroke-linejoin="round">HBsAg seroclearance (%)</text>
<text transform="translate(9.00,492.64) rotate(-90) scale(1,0.5822)" font-size="17.73" font-weight="bold" stroke="#000" stroke-width="0.4" stroke-linejoin="round">Annual rates of</text>
<text transform="translate(21.70,534.61) rotate(-90) scale(1,0.6313)" font-size="17.96" font-weight="bold" stroke="#000" stroke-width="0.4" stroke-linejoin="round">HBsAg seroclearance (%)</text>
<text transform="translate(358.70,492.24) rotate(-90) scale(1,0.5946)" font-size="17.60" font-weight="bold" stroke="#000" stroke-width="0.4" stroke-linejoin="round">Annual rates of</text>
<text transform="translate(372.00,532.99) rotate(-90) scale(1,0.6284)" font-size="17.58" font-weight="bold" stroke="#000" stroke-width="0.4" stroke-linejoin="round">HBsAg seroclearance (%)</text>
<rect x="329.70" y="32.00" width="240.90" height="52.40" fill="#fff" stroke="#000" stroke-width="1.6"/>
<line x1="334.30" y1="41.50" x2="337.82" y2="41.50" stroke="#0000ff" stroke-width="2.0" />
<line x1="344.86" y1="41.50" x2="348.38" y2="41.50" stroke="#0000ff" stroke-width="2.0" />
<line x1="350.14" y1="41.50" x2="351.90" y2="41.50" stroke="#0000ff" stroke-width="2.0" />
<g transform="translate(342.90,41.50) scale(1.0,1)"><ellipse cx="0" cy="0" rx="2.92" ry="2.92" fill="none" stroke="#0000ff" stroke-width="2.08" /></g>
<text transform="translate(357.74,45.20) scale(1.1570,1)" font-size="10.30" font-weight="bold">Surveyed vaccination coverage rate</text>
<line x1="334.30" y1="58.10" x2="337.82" y2="58.10" stroke="#ff0000" stroke-width="2.2" />
<line x1="344.86" y1="58.10" x2="348.38" y2="58.10" stroke="#ff0000" stroke-width="2.2" />
<line x1="350.14" y1="58.10" x2="351.90" y2="58.10" stroke="#ff0000" stroke-width="2.2" />
<g transform="translate(342.90,58.10) scale(1.0,1)"><polygon points="0,-3.06 2.75,1.84 -2.75,1.84" fill="#ff0000" stroke="#ff0000" stroke-width="2.21" stroke-linejoin="miter" /></g>
<text transform="translate(357.31,62.40) scale(1.1430,1)" font-size="10.30" font-weight="bold">Reduced by 20%</text>
<line x1="334.30" y1="74.60" x2="337.82" y2="74.60" stroke="#000" stroke-width="2.0" />
<line x1="344.86" y1="74.60" x2="348.38" y2="74.60" stroke="#000" stroke-width="2.0" />
<line x1="350.14" y1="74.60" x2="351.90" y2="74.60" stroke="#000" stroke-width="2.0" />
<g transform="translate(342.90,74.60) scale(1.0,1)"><polygon points="0,3.06 2.75,-1.84 -2.75,-1.84" fill="#000" stroke="#000" stroke-width="2.21" stroke-linejoin="miter" /></g>
<text transform="translate(357.31,79.30) scale(1.1410,1)" font-size="10.30" font-weight="bold">Increased by 20%</text>
<rect x="169.50" y="339.30" width="147.40" height="54.50" fill="#fff" stroke="#000" stroke-width="1.4"/>
<line x1="172.30" y1="349.70" x2="174.58" y2="349.70" stroke="#0000ff" stroke-width="1.8" />
<line x1="179.14" y1="349.70" x2="181.42" y2="349.70" stroke="#0000ff" stroke-width="1.8" />
<line x1="182.56" y1="349.70" x2="183.70" y2="349.70" stroke="#0000ff" stroke-width="1.8" />
<g transform="translate(177.80,349.70) scale(0.65,1)"><ellipse cx="0" cy="0" rx="3.30" ry="3.30" fill="none" stroke="#0000ff" stroke-width="2.4699999999999998" /></g>
<text transform="translate(189.76,353.40) scale(0.7500,1)" font-size="10.90" font-weight="normal" stroke="#000" stroke-width="0.35" stroke-linejoin="round">Vaccination protection rate (0.85)</text>
<line x1="172.30" y1="366.90" x2="174.58" y2="366.90" stroke="#dd1111" stroke-width="1.8" />
<line x1="179.14" y1="366.90" x2="181.42" y2="366.90" stroke="#dd1111" stroke-width="1.8" />
<line x1="182.56" y1="366.90" x2="183.70" y2="366.90" stroke="#dd1111" stroke-width="1.8" />
<g transform="translate(177.80,366.90) scale(0.65,1)"><polygon points="0,-3.52 3.16,2.11 -3.16,2.11" fill="#dd1111" stroke="#dd1111" stroke-width="2.4699999999999998" stroke-linejoin="miter" /></g>
<text transform="translate(189.76,371.20) scale(0.7500,1)" font-size="10.90" font-weight="normal" stroke="#000" stroke-width="0.35" stroke-linejoin="round">Vaccination protection rate (0.75)</text>
<line x1="172.30" y1="384.80" x2="174.58" y2="384.80" stroke="#000" stroke-width="1.8" />
<line x1="179.14" y1="384.80" x2="181.42" y2="384.80" stroke="#000" stroke-width="1.8" />
<line x1="182.56" y1="384.80" x2="183.70" y2="384.80" stroke="#000" stroke-width="1.8" />
<g transform="translate(177.80,384.80) scale(0.65,1)"><polygon points="0,3.52 3.16,-2.11 -3.16,-2.11" fill="#000" stroke="#000" stroke-width="2.4699999999999998" stroke-linejoin="miter" /></g>
<text transform="translate(189.76,389.00) scale(0.7500,1)" font-size="10.90" font-weight="normal" stroke="#000" stroke-width="0.35" stroke-linejoin="round">Vaccination protection rate (0.95)</text>
<rect x="532.30" y="340.40" width="128.80" height="54.60" fill="#fff" stroke="#000" stroke-width="1.4"/>
<line x1="535.50" y1="350.70" x2="537.74" y2="350.70" stroke="#0000ff" stroke-width="1.8" />
<line x1="542.22" y1="350.70" x2="544.46" y2="350.70" stroke="#0000ff" stroke-width="1.8" />
<line x1="545.58" y1="350.70" x2="546.70" y2="350.70" stroke="#0000ff" stroke-width="1.8" />
<g transform="translate(540.80,350.70) scale(0.65,1)"><ellipse cx="0" cy="0" rx="3.30" ry="3.30" fill="none" stroke="#0000ff" stroke-width="2.4699999999999998" /></g>
<text transform="translate(550.03,354.50) scale(0.7500,1)" font-size="10.90" font-weight="normal" stroke="#000" stroke-width="0.35" stroke-linejoin="round">Perinatal infection rate (0.06)</text>
<line x1="535.50" y1="368.30" x2="537.74" y2="368.30" stroke="#dd1111" stroke-width="1.8" />
<line x1="542.22" y1="368.30" x2="544.46" y2="368.30" stroke="#dd1111" stroke-width="1.8" />
<line x1="545.58" y1="368.30" x2="546.70" y2="368.30" stroke="#dd1111" stroke-width="1.8" />
<g transform="translate(540.80,368.30) scale(0.65,1)"><polygon points="0,-3.52 3.16,2.11 -3.16,2.11" fill="#dd1111" stroke="#dd1111" stroke-width="2.4699999999999998" stroke-linejoin="miter" /></g>
<text transform="translate(550.03,372.20) scale(0.7500,1)" font-size="10.90" font-weight="normal" stroke="#000" stroke-width="0.35" stroke-linejoin="round">Perinatal infection rate (0.09)</text>
<line x1="535.50" y1="385.90" x2="537.74" y2="385.90" stroke="#000" stroke-width="1.8" />
<line x1="542.22" y1="385.90" x2="544.46" y2="385.90" stroke="#000" stroke-width="1.8" />
<line x1="545.58" y1="385.90" x2="546.70" y2="385.90" stroke="#000" stroke-width="1.8" />
<g transform="translate(540.80,385.90) scale(0.65,1)"><polygon points="0,3.52 3.16,-2.11 -3.16,-2.11" fill="#000" stroke="#000" stroke-width="2.4699999999999998" stroke-linejoin="miter" /></g>
<text transform="translate(550.03,389.80) scale(0.7500,1)" font-size="10.90" font-weight="normal" stroke="#000" stroke-width="0.35" stroke-linejoin="round">Perinatal infection rate (0.03)</text>
</svg>
</body></html>
